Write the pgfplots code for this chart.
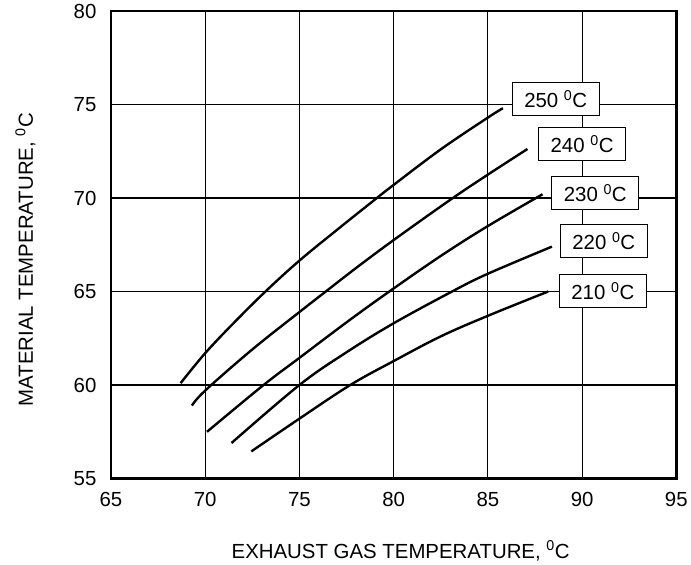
\documentclass[border=0pt]{standalone}
\usepackage{pgfplots}
\pgfplotsset{compat=1.18}
\usepackage{fontspec}
\setmainfont{Liberation Sans}
\begin{document}
\begin{tikzpicture}[curve/.style={black, line width=2.4pt, smooth, tension=0.6, mark=none}]
\begin{axis}[
  name=ax,
  scale only axis,
  width=566bp, height=468bp,
  xmin=65, xmax=95, ymin=55, ymax=80,
  xtick={65,70,...,95}, ytick={55,60,...,80},
  major tick length=0pt,
  grid=major,
  grid style={black, line width=1.2pt},
  axis line style={black, line width=2.6pt},
  /pgf/number format/assume math mode=true,
  ticklabel style={font=\fontsize{20.5}{24}\selectfont},
  xticklabel style={yshift=-10bp},
  yticklabel style={xshift=-11bp},
  label style={font=\fontsize{20.5}{24}\selectfont},
  xlabel={EXHAUST GAS TEMPERATURE, \textsuperscript{0}C},
  ylabel={MATERIAL TEMPERATURE, \textsuperscript{0}C},
  xlabel style={at={(axis description cs:0.5124,-0.1709)}, anchor=base},
  ylabel style={at={(axis description cs:-0.1378,0.468)}, anchor=base},
  clip=false,
]
\addplot[curve] coordinates {(68.7,60.1)(70,61.7)(71.5,63.3)(73.2,65)(75,66.65)(77,68.3)(78.8,69.75)(80,70.7)(82.5,72.6)(85,74.3)(85.8,74.8)};
\addplot[curve] coordinates {(69.3,58.9)(70,59.7)(72.5,61.9)(75,63.9)(76.4,65)(78,66.25)(80,67.75)(83,69.9)(85,71.25)(87.1,72.62)};
\addplot[curve] coordinates {(70.1,57.5)(73.1,60)(75,61.45)(77.5,63.35)(79.7,64.95)(82.5,66.9)(85,68.5)(87.9,70.2)};
\addplot[curve] coordinates {(71.4,56.9)(75,60)(77.5,61.75)(80,63.3)(83.1,65)(85,65.95)(88.4,67.4)};
\addplot[curve] coordinates {(72.45,56.45)(75,58.2)(77.7,60)(80,61.28)(82.5,62.6)(85,63.7)(88.2,65)};
\tikzset{lbl/.style={draw=black, line width=1.3pt, fill=white, minimum width=87bp, minimum height=33bp, inner sep=0pt, font=\fontsize{20.5}{24}\selectfont}}
\node[lbl] at (axis cs:88.6,75.3) {250 \textsuperscript{0}C};
\node[lbl] at (axis cs:90.0,72.87) {240 \textsuperscript{0}C};
\node[lbl] at (axis cs:90.7,70.26) {230 \textsuperscript{0}C};
\node[lbl] at (axis cs:91.15,67.7) {220 \textsuperscript{0}C};
\node[lbl] at (axis cs:91.1,65.03) {210 \textsuperscript{0}C};
\end{axis}
\path (ax.south west) ++(-111bp,-86bp) rectangle ++(691bp,565bp);
\end{tikzpicture}
\end{document}
